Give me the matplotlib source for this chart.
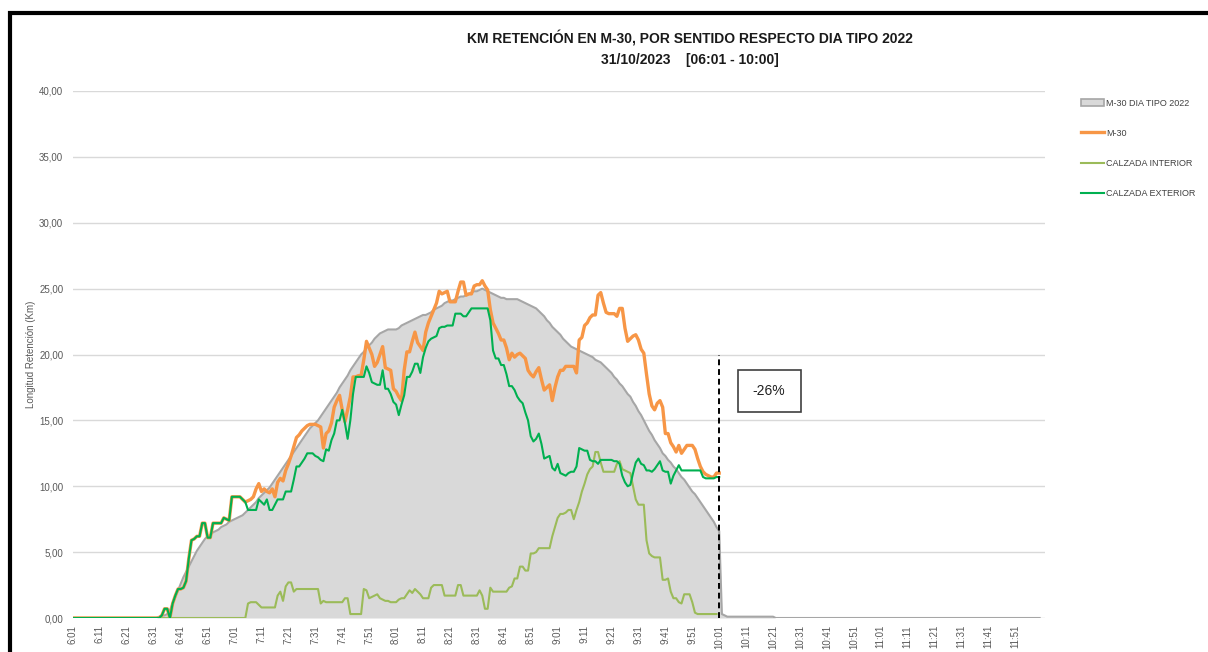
import matplotlib
matplotlib.use("Agg")
import matplotlib.pyplot as plt
from matplotlib.patches import Patch, Rectangle
from matplotlib.lines import Line2D

plt.rcParams['font.family'] = ['Liberation Sans', 'DejaVu Sans']

# minutos desde las 6:01 hasta las 12:00
minutos = [f"{(361 + m) // 60}:{(361 + m) % 60:02d}" for m in range(360)]
etiquetas = minutos[::10]

# M-30 DIA TIPO 2022 (area gris)
dia_tipo = [0.0] * 32 + [
    0.1, 0.2, 0.2, 0.3, 0.6, 1.1, 1.6, 2.1, 2.6, 3.1, 3.5, 3.9, 4.3, 4.7, 5.1, 5.4, 5.7, 6.0,
    6.2, 6.3, 6.5, 6.6, 6.7, 6.9, 7.0, 7.1, 7.3, 7.4, 7.5, 7.6, 7.7, 7.8, 8.0, 8.2, 8.4, 8.6,
    8.8, 9.1, 9.3, 9.5, 9.7, 9.9, 10.2, 10.5, 10.8, 11.1, 11.4, 11.7, 12.0, 12.3, 12.6, 12.9,
    13.2, 13.5, 13.8, 14.1, 14.4, 14.6, 14.8, 15.0, 15.3, 15.6, 15.9, 16.2, 16.5, 16.8, 17.1,
    17.5, 17.8, 18.1, 18.4, 18.8, 19.1, 19.4, 19.7, 20.0, 20.2, 20.5, 20.7, 20.9, 21.2, 21.4,
    21.6, 21.7, 21.8, 21.9, 21.9, 21.9, 21.9, 22.0, 22.2, 22.3, 22.4, 22.5, 22.6, 22.7, 22.8,
    22.9, 23.0, 23.0, 23.1, 23.2, 23.4, 23.5, 23.6, 23.7, 23.9, 24.0, 24.1, 24.1, 24.2, 24.3,
    24.4, 24.4, 24.5, 24.6, 24.7, 24.8, 24.8, 24.9, 25.0, 24.9, 24.8, 24.7, 24.6, 24.5, 24.4,
    24.3, 24.3, 24.2, 24.2, 24.2, 24.2, 24.2, 24.1, 24.0, 23.9, 23.8, 23.7, 23.6, 23.5, 23.3,
    23.1, 22.9, 22.6, 22.4, 22.1, 21.9, 21.7, 21.5, 21.2, 21.0, 20.8, 20.6, 20.5, 20.4, 20.3,
    20.2, 20.1, 20.0, 19.9, 19.8, 19.6, 19.5, 19.4, 19.2, 19.0, 18.8, 18.6, 18.3, 18.1, 17.8,
    17.6, 17.3, 17.0, 16.8, 16.4, 16.1, 15.7, 15.4, 15.0, 14.6, 14.2, 13.9, 13.5, 13.2, 12.9,
    12.5, 12.3, 12.0, 11.8, 11.5, 11.3, 11.0, 10.7, 10.5, 10.2, 9.9, 9.6, 9.4, 9.1, 8.8, 8.5,
    8.2, 7.9, 7.6, 7.3, 6.9, 6.6, 0.3, 0.2] + [0.1] * 18 + [0.0] * 99

# M-30 (naranja)
m30 = [0.0] * 33 + [
    0.2, 0.7, 0.7, 0.0, 1.1, 1.7, 2.2, 2.2, 2.3, 2.8, 4.5, 5.9, 6.0, 6.2, 6.2, 7.2, 7.2, 6.1,
    6.1, 7.2, 7.2, 7.2, 7.2, 7.6, 7.5, 7.4, 9.2, 9.2, 9.2, 9.2, 9.0, 8.8,
    8.9, 9.0, 9.2, 9.8, 10.2, 9.6, 9.8, 9.6, 9.5, 9.8, 9.2, 10.3, 10.6, 10.4, 11.2, 11.7,
    12.3, 13.0, 13.7, 13.9, 14.2, 14.4, 14.6, 14.7, 14.7, 14.7, 14.6, 14.5, 12.9, 14.0,
    14.2, 14.8, 16.0, 16.5, 16.9, 15.8, 14.9, 15.8, 16.8, 18.3, 18.3, 18.4, 18.4, 19.6,
    21.0, 20.5, 20.0, 19.1, 19.4, 20.0, 20.6, 19.0, 18.9, 18.8, 17.4, 17.2, 16.8, 16.5,
    18.8, 20.2, 20.2, 21.0, 21.7, 20.9, 20.6, 20.3, 21.7, 22.4, 22.9, 23.4, 23.9, 24.8,
    24.6, 24.7, 24.8, 24.0, 24.0, 24.0, 24.8, 25.5, 25.5, 24.5, 24.6, 24.6, 25.2, 25.3,
    25.3, 25.6, 25.2, 24.9, 23.4, 22.4, 22.0, 21.6, 21.1, 21.1, 20.5, 19.6, 20.1, 19.8,
    20.0, 20.1, 19.9, 19.7, 18.8, 18.5, 18.3, 18.7, 19.0, 18.1, 17.3, 17.5, 17.7, 16.5,
    17.5, 18.3, 18.8, 18.8, 19.1, 19.1, 19.1, 19.1, 18.6, 21.1, 21.3, 22.2, 22.4, 22.8,
    23.0, 23.0, 24.5, 24.7, 23.9, 23.2, 23.1, 23.1, 23.1, 22.9, 23.5, 23.5, 22.0, 21.0,
    21.2, 21.4, 21.5, 21.1, 20.4, 20.1, 18.5, 17.0, 16.1, 15.8, 16.3, 16.5, 16.0, 14.0,
    14.0, 13.3, 13.0, 12.6, 13.1, 12.5, 12.8, 13.1, 13.1, 13.1, 12.8, 12.1, 11.5, 11.1,
    10.9, 10.8, 10.7, 10.7, 11.0, 11.0]

# CALZADA INTERIOR (verde claro)
interior = [0.0] * 65 + [
    1.1, 1.2, 1.2, 1.2, 1.0, 0.8, 0.8, 0.8, 0.8, 0.8, 0.8, 1.7, 2.0, 1.3, 2.4, 2.7, 2.7,
    2.0, 2.2, 2.2, 2.2, 2.2, 2.2, 2.2, 2.2, 2.2, 2.2, 1.1, 1.3, 1.2, 1.2, 1.2, 1.2, 1.2,
    1.2, 1.2, 1.5, 1.5, 0.3, 0.3, 0.3, 0.3, 0.3, 2.2, 2.1, 1.5, 1.6, 1.7, 1.8, 1.5, 1.4,
    1.3, 1.3, 1.2, 1.2, 1.2, 1.4, 1.5, 1.5, 1.8, 2.1, 1.9, 2.2, 2.0, 1.8, 1.5, 1.5, 1.5,
    2.3, 2.5, 2.5, 2.5, 2.5, 1.7, 1.7, 1.7, 1.7, 1.7, 2.5, 2.5, 1.7, 1.7, 1.7, 1.7, 1.7,
    1.7, 2.1, 1.7, 0.7, 0.7, 2.3, 2.0, 2.0, 2.0, 2.0, 2.0, 2.0, 2.3, 2.4, 3.0, 3.0, 3.9,
    3.9, 3.6, 3.6, 4.9, 4.9, 5.0, 5.3, 5.3, 5.3, 5.3, 5.3, 6.2, 6.9, 7.6, 7.9, 7.9, 8.0,
    8.2, 8.2, 7.5, 8.2, 8.8, 9.6, 10.2, 10.9, 11.3, 11.5, 12.6, 12.6, 11.8, 11.1, 11.1,
    11.1, 11.1, 11.1, 11.7, 11.9, 11.3, 11.2, 11.1, 11.0, 10.0, 9.0, 8.6, 8.6, 8.6, 5.9,
    4.9, 4.7, 4.6, 4.6, 4.6, 2.9, 2.9, 3.0, 2.0, 1.5, 1.5, 1.2, 1.1, 1.8, 1.8, 1.8, 1.2,
    0.4, 0.3, 0.3, 0.3, 0.3, 0.3, 0.3, 0.3, 0.3]

# CALZADA EXTERIOR (verde)
exterior = m30[:65] + [
    8.2, 8.2, 8.2, 8.2, 9.0, 8.8, 8.6, 9.0, 8.2, 8.2, 8.6, 9.0, 9.0, 9.0, 9.6, 9.6, 9.6,
    10.5, 11.5, 11.5, 11.8, 12.1, 12.5, 12.5, 12.5, 12.3, 12.2, 12.0, 11.9, 12.8, 12.7,
    13.5, 14.0, 15.0, 15.0, 15.8, 14.8, 13.6, 15.0, 17.0, 18.3, 18.3, 18.3, 18.3, 19.1,
    18.6, 17.9, 17.8, 17.7, 17.7, 18.8, 17.4, 17.4, 17.0, 16.4, 16.2, 15.4, 16.2, 16.9,
    18.3, 18.3, 18.7, 19.3, 19.3, 18.6, 19.8, 20.5, 21.0, 21.2, 21.3, 21.4, 22.0, 22.1,
    22.1, 22.2, 22.2, 22.2, 23.1, 23.1, 23.1, 22.9, 22.9, 23.2, 23.5, 23.5, 23.5, 23.5,
    23.5, 23.5, 23.5, 22.6, 20.3, 19.7, 19.7, 19.2, 19.2, 18.5, 17.6, 17.6, 17.3, 16.8,
    16.5, 16.3, 15.6, 15.0, 13.8, 13.4, 13.6, 14.0, 13.2, 12.1, 12.2, 12.3, 11.4, 11.2,
    11.7, 11.0, 10.9, 10.8, 11.0, 11.1, 11.1, 11.5, 12.9, 12.8, 12.7, 12.7, 12.0, 11.9,
    11.9, 11.7, 12.0, 12.0, 12.0, 12.0, 12.0, 11.9, 11.9, 11.7, 10.8, 10.3, 10.0, 10.1,
    11.0, 11.8, 12.1, 11.7, 11.6, 11.2, 11.2, 11.1, 11.3, 11.6, 11.9, 11.2, 11.1, 11.1,
    10.2, 10.8, 11.2, 11.6, 11.2, 11.2, 11.2, 11.2, 11.2, 11.2, 11.2, 11.2, 10.7, 10.6,
    10.6, 10.6, 10.6, 10.7, 10.7]

W, H = 1208, 652
fig = plt.figure(figsize=(W / 100, H / 100), dpi=100)
ax = fig.add_axes([73 / W, 1 - 618 / H, (1045 - 73) / W, (618 - 91) / H])

x_area = range(len(dia_tipo))
ax.fill_between(x_area, dia_tipo, color='#D9D9D9', lw=0, zorder=1)
ax.plot(x_area, dia_tipo, color='#A6A6A6', lw=1.5, zorder=2)
ax.plot(range(len(m30)), m30, color='#F79646', lw=2.4, zorder=3)
ax.plot(range(len(interior)), interior, color='#9BBB59', lw=1.5, zorder=4)
ax.plot(range(len(exterior)), exterior, color='#00B050', lw=1.5, zorder=5)

# corte a las 10:01
ax.plot([240, 240], [0, 20], color='black', lw=1.4, ls=(0, (3, 2)), zorder=6)
ax.add_patch(Rectangle((246.8, 15.6), 23.5, 3.25, facecolor='white', edgecolor='#404040', lw=1.2, zorder=7))
ax.text(258.5, 17.2, '-26%', ha='center', va='center', fontsize=10, color='#222222', zorder=8)

ax.set_xlim(0, 361)
ax.set_ylim(0, 40)
ax.set_yticks(range(0, 41, 5))
ax.set_yticklabels([f"{v},00" for v in range(0, 41, 5)])
ax.set_xticks(range(0, 360, 10))
ax.set_xticklabels(etiquetas, rotation=90)
ax.tick_params(axis='both', length=0, labelsize=7, colors='#595959')
ax.tick_params(axis='x', pad=5)
ax.tick_params(axis='y', pad=7)
ax.grid(axis='y', color='#D9D9D9', lw=1)
ax.set_axisbelow(True)
for s in ax.spines.values():
    s.set_visible(False)
ax.set_ylabel('Longitud Retención (Km)', fontsize=7, color='#595959', labelpad=2)

fig.text(690 / W, 1 - 38 / H, 'KM RETENCIÓN EN M-30, POR SENTIDO RESPECTO DIA TIPO 2022',
         ha='center', va='center', fontsize=10, fontweight='bold', color='#1a1a1a')
fig.text(690 / W, 1 - 60 / H, '31/10/2023    [06:01 - 10:00]',
         ha='center', va='center', fontsize=10, fontweight='bold', color='#1a1a1a')

handles = [
    Patch(facecolor='#D9D9D9', edgecolor='#A6A6A6', lw=1.2),
    Line2D([], [], color='#F79646', lw=2.4),
    Line2D([], [], color='#9BBB59', lw=1.5),
    Line2D([], [], color='#00B050', lw=1.5),
]
nombres = ['M-30 DIA TIPO 2022', 'M-30', 'CALZADA INTERIOR', 'CALZADA EXTERIOR']
fig.legend(handles, nombres, loc='upper left', bbox_to_anchor=(1077 / W, 1 - 95 / H),
           frameon=False, fontsize=6.5, labelcolor='#404040', handlelength=2.6,
           handleheight=0.9, handletextpad=0.2, labelspacing=2.35, borderaxespad=0)

# marco negro
fig.patches.append(Rectangle((10 / W, -0.05), 1.1, 1 - 13 / H + 0.05, transform=fig.transFigure,
                             fill=False, edgecolor='black', lw=3, zorder=10))

fig.savefig('out.png', dpi=100)
